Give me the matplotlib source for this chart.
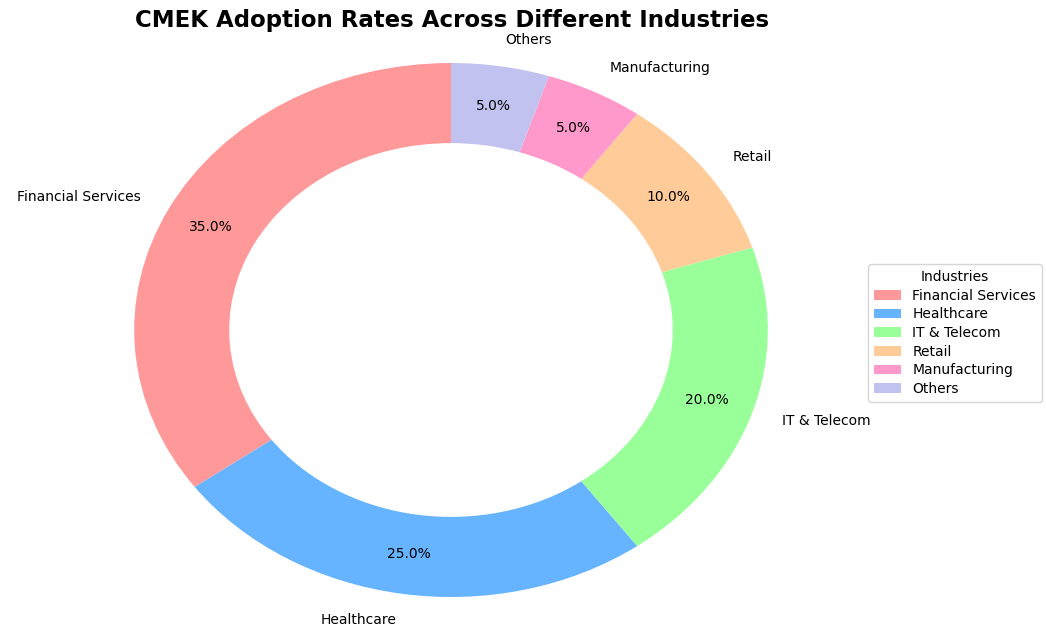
import matplotlib
matplotlib.use("Agg")
import matplotlib.pyplot as plt

industries = ["Financial Services", "Healthcare", "IT & Telecom", "Retail", "Manufacturing", "Others"]
adoption = [35, 25, 20, 10, 5, 5]
colors = ["#ff9999", "#66b3ff", "#99ff99", "#ffcc99", "#ff99cc", "#c2c2f0"]

fig = plt.figure(figsize=(10.46, 6.28), dpi=100)
ax = fig.add_axes([55 / 1046, (298 - 0.5 * 2.2 * 267) / 628, 792 / 1046, 2.2 * 267 / 628])
wedges, texts, autotexts = ax.pie(
    adoption, labels=industries, colors=colors, autopct="%1.1f%%",
    startangle=90, pctdistance=0.85, wedgeprops=dict(width=0.3))
ax.set_aspect("auto")
ax.set_xlim(-1.25, 1.25)
ax.set_ylim(-1.1, 1.1)
fig.text(452 / 1046, 1 - 20 / 628, "CMEK Adoption Rates Across Different Industries",
         ha="center", va="center", fontsize=16.5, fontweight="bold")
fig.legend(wedges, industries, title="Industries", loc="center left",
           bbox_to_anchor=(861 / 1046, 1 - 333 / 628), labelspacing=0.34)
fig.savefig("out.png", dpi=100)
